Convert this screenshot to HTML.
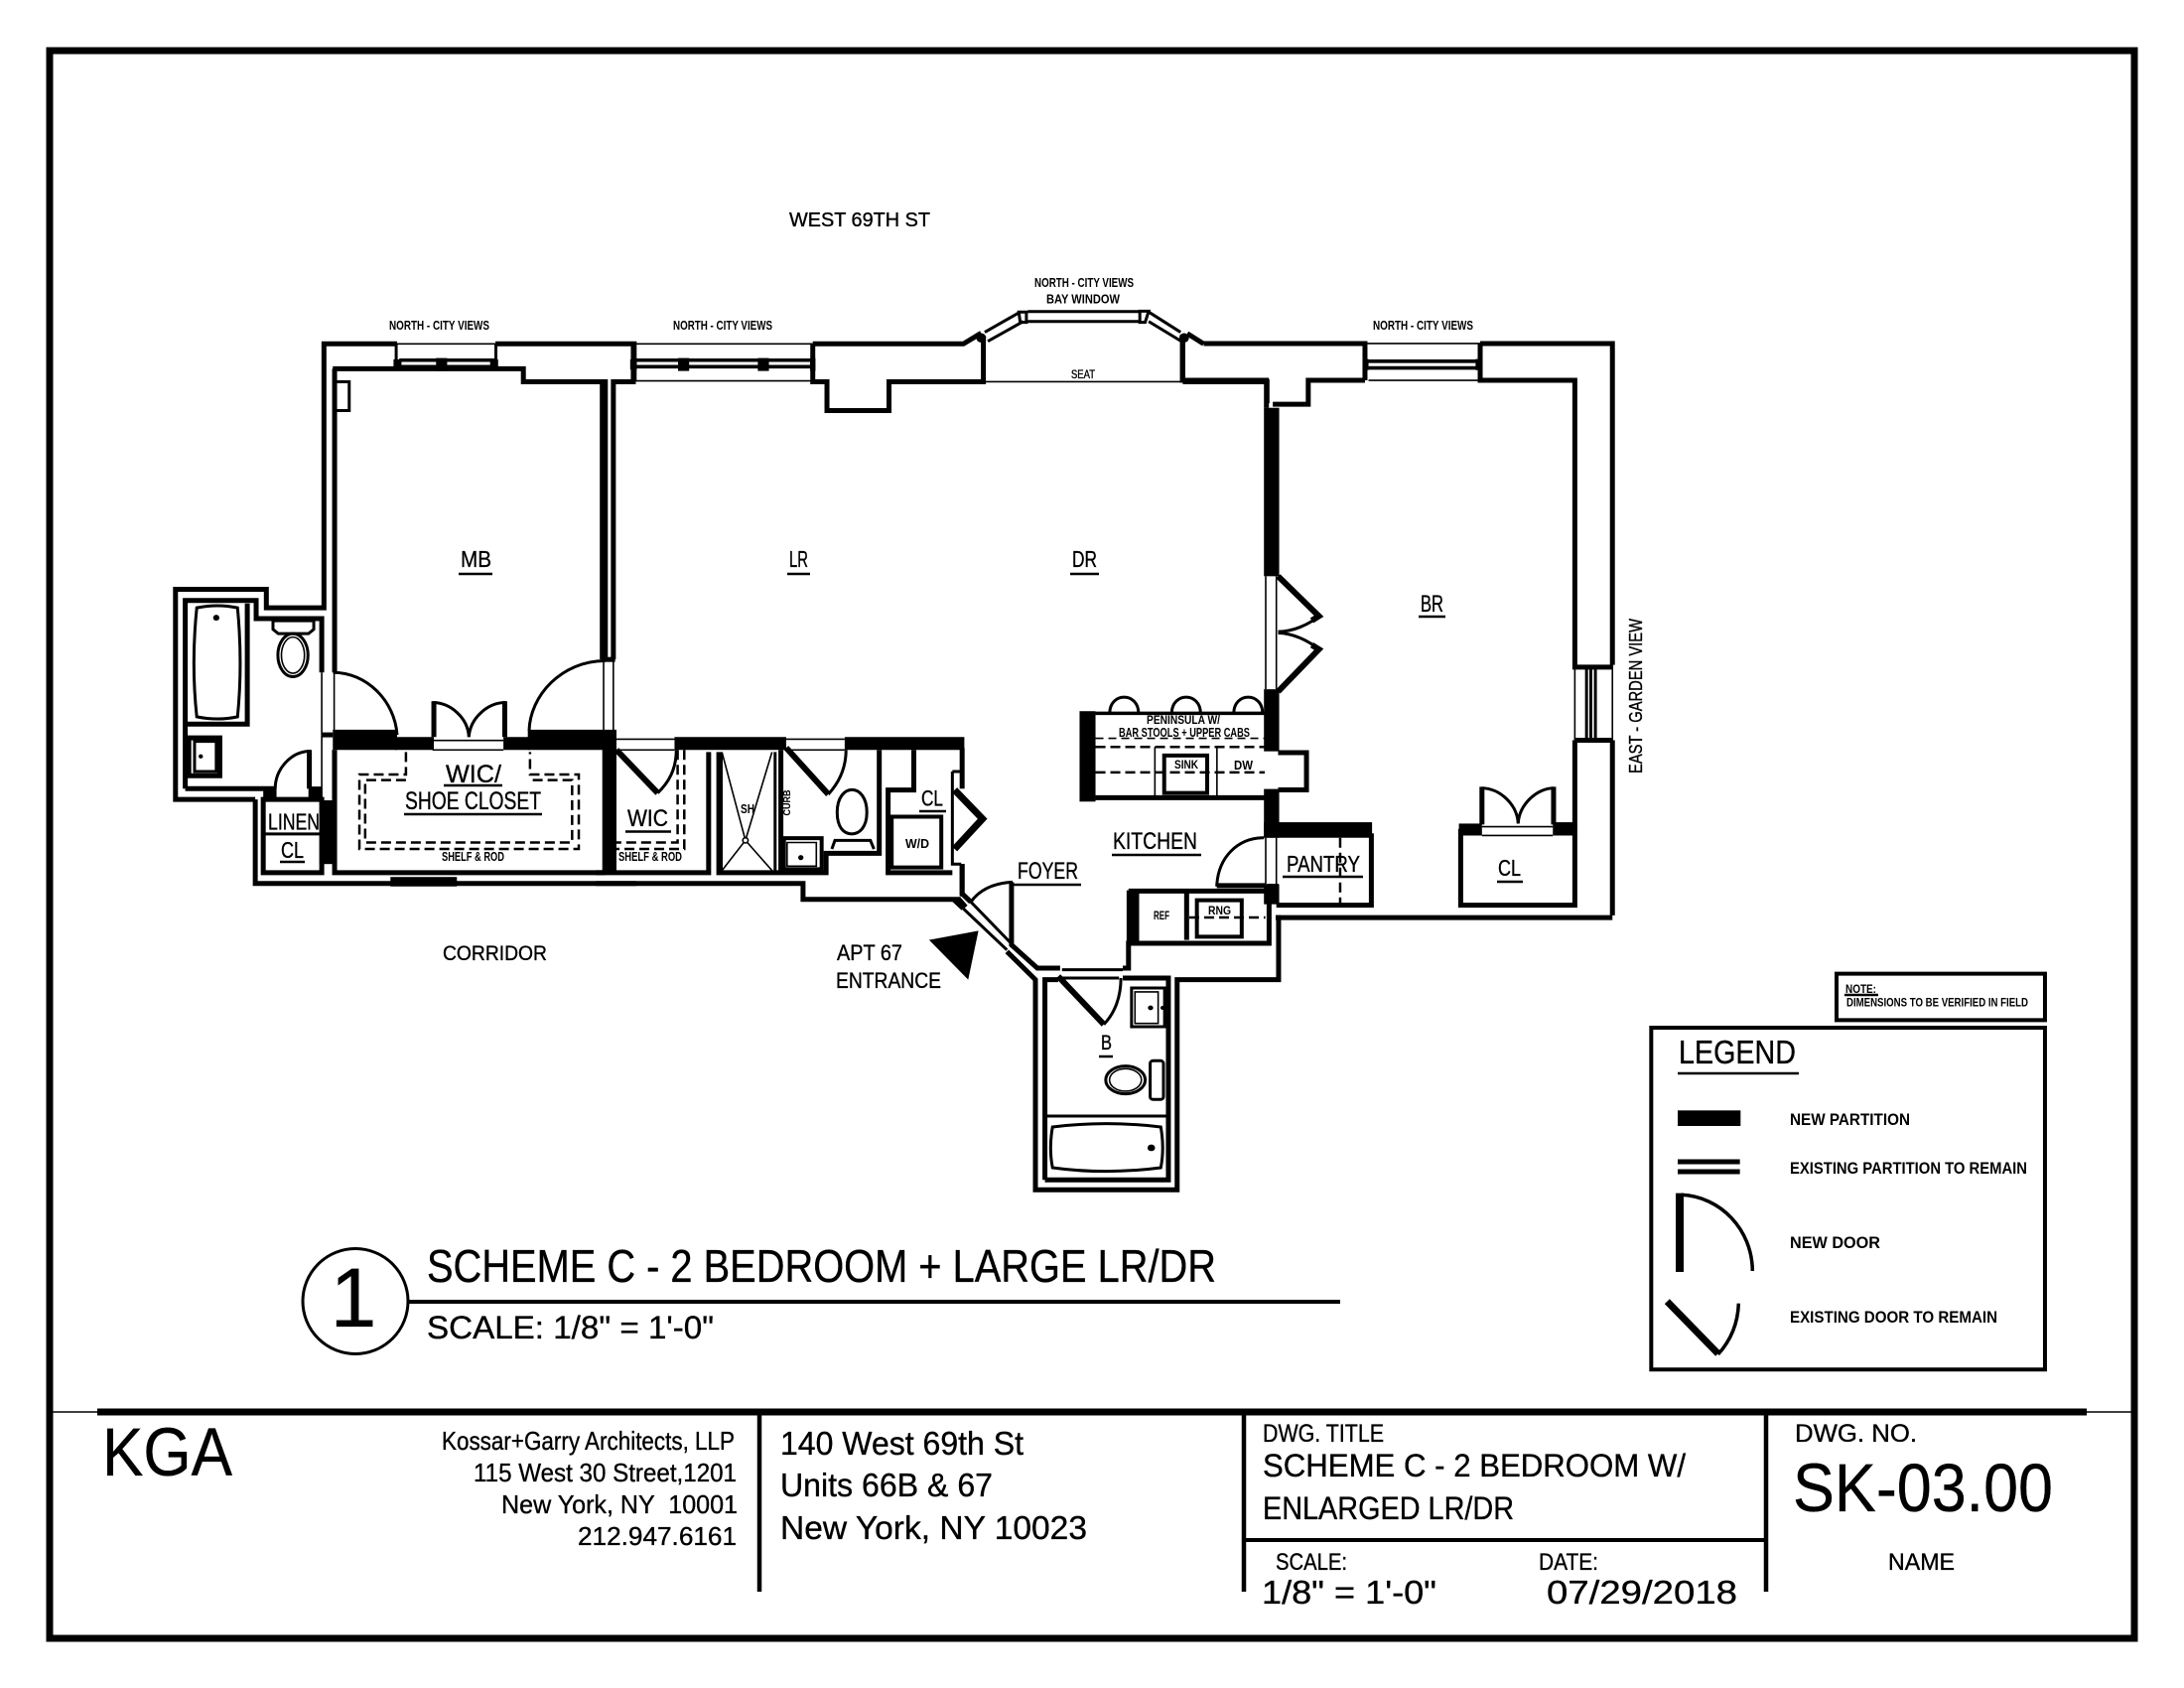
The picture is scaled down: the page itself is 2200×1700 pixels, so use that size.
<!DOCTYPE html>
<html><head><meta charset="utf-8"><title>SK-03.00</title>
<style>
html,body{margin:0;padding:0;background:#fff}
svg{display:block}
path,line,rect,ellipse,circle,polyline{vector-effect:non-scaling-stroke}
.g{fill:none;stroke:#000;stroke-width:5;stroke-linejoin:miter}
.m{stroke-width:3}
.t{stroke-width:1.6}
.h{stroke-width:7}
.w{stroke-width:3.6}
.d{stroke-width:2.5;stroke-dasharray:10 5}
.f{fill:#000;stroke:none}
.u{stroke:#000;stroke-width:2.5}
text{font-family:"Liberation Sans",sans-serif;fill:#000;stroke:#000;stroke-width:.35}
.b{font-weight:bold;stroke:none}
</style></head><body>
<svg xmlns="http://www.w3.org/2000/svg" width="2200" height="1700" viewBox="0 0 2200 1700">
<rect width="2200" height="1700" fill="#fff"/>
<rect x="50" y="51" width="2100" height="1599" fill="none" stroke="#000" stroke-width="7"/>

<!-- WEST PART -->
<g class="g" transform="translate(150,250) scale(.4464,.4337)">
<path d="M240,1280H60V792H265V835H395V222H560"/>
<path d="M560,222H782M1095,222H1100" class="t"/>
<path d="M782,222H1095V310"/>
<path d="M82,1255V818H242V860H390V985"/>
<path d="M82,1105H222V825"/>
<path d="M82,1255H285M240,1280V1475H1100"/>
<rect x="90" y="1137" width="70" height="88"/>
<rect x="103" y="1145" width="49" height="70" class="m"/>
<circle cx="117" cy="1180" r="5" class="f"/>
<path class="m" d="M108,835Q155,825 200,835Q212,965 200,1088Q155,1098 108,1088Q95,965 108,835Z"/>
<circle cx="152" cy="858" r="7" class="f"/>
<path class="m" d="M280,865H372V885L360,895H292L280,885Z"/>
<ellipse class="m" cx="325" cy="945" rx="34" ry="50"/>
<ellipse class="t" cx="325" cy="945" rx="26" ry="42"/>
<path d="M419,280V985"/>
<path class="t" d="M390,985V1130M418,985V1120"/>
<path class="m" d="M416,985C490,985 555,1050 560,1130"/>
<rect class="f" x="415" y="1118" width="145" height="47"/>
<rect class="f" x="555" y="1135" width="88" height="30"/>
<rect class="f" x="800" y="1135" width="60" height="30"/>
<rect class="f" x="855" y="1118" width="200" height="47"/>
<path class="t" d="M640,1143H800M640,1165H800"/>
<path d="M643,1052V1135M803,1052V1135"/>
<path class="m" d="M640,1055C680,1055 720,1090 722,1135M805,1055C765,1055 725,1090 722,1135"/>
<path class="m" d="M1030,958C930,958 860,1040 858,1120"/>
<path d="M415,280H845V310H1030V955"/>
<path class="h" style="stroke-width:3" d="M558,222V280M783,222V280"/>
<path d="M565,260H780M565,275H780" class="w"/>
<rect class="f" x="648" y="255" width="25" height="30"/>
<rect class="f" x="552" y="258" width="18" height="24"/>
<rect class="f" x="770" y="258" width="18" height="24"/>
<rect class="m" x="420" y="310" width="32" height="67"/>
<path d="M1020,955H1052"/>
<path class="t" d="M1026,960V1120M1048,960V1120"/>
<path d="M419,1165V1450H1030"/>
<rect class="f" x="545" y="1460" width="150" height="22"/>
<rect x="258" y="1280" width="132" height="170"/>
<path class="m" d="M258,1360H390"/>
<rect class="f" x="385" y="1282" width="30" height="148"/>
<path class="t" d="M390,1130V1280M415,1165V1280"/>
<path d="M390,1130H415"/>
<path class="m" d="M365,1168C320,1168 285,1210 285,1255"/>
<path d="M362,1165V1255"/>
<rect class="f" x="258" y="1250" width="30" height="35"/>
<rect class="f" x="360" y="1250" width="30" height="35"/>
<path class="d" d="M580,1170V1222H475V1395H970V1222H860V1170"/>
<path class="d" d="M580,1235H488V1380H955V1235H860"/>
</g>

<!-- CENTRE -->
<g class="g" transform="translate(600,250) scale(.4464,.4337)">
<path d="M85,222V310H40V955M15,310V955"/>
<path class="t" d="M85,222H490M40,308H490"/>
<path class="w" d="M90,260H490M90,275H490"/>
<rect class="f" x="186" y="255" width="25" height="30"/>
<rect class="f" x="366" y="255" width="25" height="30"/>
<rect class="f" x="78" y="258" width="15" height="24"/>
<rect class="f" x="484" y="255" width="12" height="30"/>
<path d="M490,222V310H522V377H662V310H875V205M490,222H830L870,197"/>
<path class="m" d="M878,195L958,148M885,216L965,170M975,147H1228M975,170H1228M1248,148L1320,195M1248,170L1320,215"/>
<path class="m" d="M955,148H972V172H958ZM1228,146H1248L1240,172H1228Z"/>
<circle class="f" cx="870" cy="208" r="11"/>
<circle class="f" cx="1328" cy="208" r="11"/>
<path d="M1325,205V310M1335,198L1372,222"/>
<path class="t" d="M875,310H1325"/>
<path d="M1325,310H1515V360"/>
<rect class="f" x="1092" y="1075" width="36" height="210"/>
<path class="m" style="stroke-width:3.5" d="M1128,1080H1510"/>
<path d="M1128,1276H1510"/>
<path class="d" d="M1128,1158H1510M1128,1217H1510"/>
<path class="t" style="stroke-dasharray:8 5" d="M1128,1138H1510"/>
<path class="t" d="M1262,1158V1275M1402,1158V1275"/>
<rect x="1283" y="1178" width="97" height="87" class="m" style="stroke-width:4"/>
<path class="m" d="M1160,1080C1160,1030 1225,1030 1225,1080M1300,1080C1300,1030 1365,1030 1365,1080M1440,1080C1440,1030 1505,1030 1505,1080"/>
<rect class="f" x="15" y="1120" width="32" height="330"/>
<path d="M0,1450H255V1170M278,1170V1450H520V1405H640V1165"/>
<rect class="f" x="178" y="1135" width="252" height="30"/>
<rect class="f" x="562" y="1135" width="270" height="30"/>
<path class="t" d="M47,1140H178M47,1165H178M430,1140H562M430,1165H562"/>
<path d="M47,1165L140,1265" style="stroke-width:6"/>
<path class="m" d="M140,1265C165,1240 182,1210 182,1165"/>
<path class="d" d="M200,1165V1395H47M185,1165V1380H47"/>
<path class="t" d="M285,1170L338,1375L285,1445M398,1170L338,1375L398,1445M285,1170V1445"/>
<circle class="t" cx="338" cy="1375" r="6" fill="#fff"/>
<path class="m" d="M405,1170V1445"/><path d="M418,1165V1450"/>
<path d="M430,1160L525,1268" style="stroke-width:6"/>
<path class="m" d="M525,1268C550,1240 565,1205 565,1165"/>
<rect x="425" y="1370" width="85" height="72" class="m" style="stroke-width:4"/>
<rect x="432" y="1380" width="66" height="55" class="t"/>
<circle class="f" cx="463" cy="1415" r="6"/>
<path class="m" d="M545,1310C545,1240 612,1240 612,1310C612,1345 595,1360 578,1360C560,1360 545,1345 545,1310Z"/>
<path class="m" d="M533,1395L540,1375H620L628,1395"/>
<path d="M718,1165V1258H660V1450H805"/>
<rect x="668" y="1320" width="112" height="118" class="m" style="stroke-width:4"/>
<path class="m" d="M805,1215V1430H825M805,1215H825"/>
<path d="M827,1160V1255"/>
<path style="stroke-width:7" d="M810,1258L873,1325L810,1395"/>
<path d="M827,1430V1505"/>
<path d="M0,1475H468V1512H820L835,1530"/>
</g>

<!-- EAST -->
<g class="g" transform="translate(1150,250) scale(.3571,.4464)">
<path d="M175,215H630V298M955,215H1328V940"/>
<path class="t" d="M630,215H955M640,298H950"/>
<path class="w" d="M640,255H950M640,270H950"/>
<rect class="f" x="625" y="250" width="15" height="25"/>
<rect class="f" x="942" y="250" width="18" height="25"/>
<path d="M115,195V298H352V360M370,352H470V298H630M955,215V298H1222V945H1328"/>
<path class="t" d="M1222,945V1110M1328,940V1110"/>
<path class="m" d="M1255,945V1105M1267,945V1105M1280,945V1105"/>
<path d="M1222,1110H1328M1222,1110V1300M1328,1110V1505"/>
<rect class="f" x="345" y="360" width="43" height="380"/>
<path class="t" d="M350,740V995M380,740V995"/>
<path style="stroke-width:6" d="M385,740L500,830L480,840M385,1000L500,905L480,895"/>
<path class="m" d="M500,830C470,850 425,865 385,865M500,905C470,885 425,868 385,868"/>
<rect class="f" x="345" y="995" width="43" height="140"/>
<rect class="f" x="345" y="1220" width="43" height="110"/>
<path d="M385,1138H465V1222H385"/>
<rect class="f" x="345" y="1295" width="305" height="35"/>
<path d="M648,1320V1482H380"/>
<rect class="f" x="895" y="1298" width="65" height="27"/>
<rect class="f" x="1160" y="1295" width="68" height="30"/>
<path d="M900,1310V1482H1222V1300"/>
<path class="t" d="M960,1305H1160M960,1325H1160"/>
<path d="M960,1215V1300M1162,1215V1300"/>
<path class="m" d="M960,1218C1010,1218 1060,1255 1062,1298M1162,1218C1115,1218 1065,1255 1062,1298"/>
<path d="M378,1510H1328"/>
<path class="d" d="M560,1330V1482"/>
<path class="m" d="M345,1330C270,1330 215,1375 212,1440"/>
<path d="M212,1438H350"/>
<path class="t" d="M350,1330V1435M380,1330V1435"/>
<rect class="f" x="345" y="1435" width="43" height="45"/>
</g>

<!-- ENTRY / KITCHEN / BATH -->
<g class="g" transform="translate(800,820) scale(.3827,.3333)">
<path d="M420,258L445,285M442,150V240L465,265"/>
<path class="m" d="M445,285L560,410M465,265L575,395"/>
<path class="m" d="M465,265C490,225 530,208 575,205"/>
<path d="M572,205V395L640,465H700M560,415L635,500V1135H1008V500H1275V305"/>
<path d="M660,1105V500H695M865,495H985V1105H660"/>
<path class="m" d="M705,470H865M705,495H855"/>
<path d="M695,490L815,635" style="stroke-width:6"/>
<path class="m" d="M815,635C845,600 860,550 860,495"/>
<path d="M865,465H880V390H1250V232H880"/>
<rect class="f" x="875" y="230" width="33" height="158"/>
<path d="M1033,235V380"/>
<rect x="1060" y="260" width="118" height="110" class="m" style="stroke-width:4"/>
<path class="d" d="M1040,312H1240"/>
<rect class="f" x="1245" y="210" width="30" height="60"/>
<rect x="888" y="525" width="87" height="117" class="m"/>
<rect x="897" y="537" width="61" height="95" class="t"/>
<circle class="f" cx="938" cy="585" r="7"/>
<circle class="f" cx="970" cy="585" r="6"/>
<ellipse class="m" cx="872" cy="803" rx="52" ry="42"/>
<ellipse class="t" cx="872" cy="803" rx="42" ry="34"/>
<rect class="m" x="937" y="745" width="35" height="117" rx="8"/>
<path class="m" d="M665,912H985"/>
<path class="m" d="M680,945Q820,925 965,945Q975,1010 965,1068Q820,1090 680,1068Q670,1010 680,945Z"/>
<circle class="f" cx="940" cy="1008" r="10"/>
<path class="f" d="M355,380L485,352L458,500Z"/>
</g>

<!-- LEGEND -->
<g class="g" transform="translate(1640,960) scale(.3333)">
<rect x="630" y="62" width="630" height="140" style="stroke-width:4"/>
<rect x="70" y="225" width="1190" height="1033" style="stroke-width:4"/>
<rect class="f" x="150" y="475" width="190" height="47"/>
<path d="M150,630H338M150,660H338"/>
<rect class="f" x="144" y="725" width="24" height="238"/>
<path class="m" style="stroke-width:3.5" d="M160,730C280,735 375,835 376,960"/>
<path d="M118,1052L272,1210" style="stroke-width:7"/>
<path class="m" style="stroke-width:3.5" d="M272,1212C310,1170 332,1120 334,1058"/>
</g>

<!-- TITLE BLOCK LINES -->
<line x1="98" y1="1422" x2="2102" y2="1422" stroke="#000" stroke-width="7"/>
<line x1="50" y1="1422" x2="98" y2="1422" stroke="#000" stroke-width="1.6"/>
<line x1="2102" y1="1422" x2="2150" y2="1422" stroke="#000" stroke-width="1.6"/>
<line x1="765" y1="1422" x2="765" y2="1603" stroke="#000" stroke-width="4.5"/>
<line x1="1253" y1="1422" x2="1253" y2="1603" stroke="#000" stroke-width="4.5"/>
<line x1="1779" y1="1422" x2="1779" y2="1603" stroke="#000" stroke-width="4.5"/>
<line x1="1253" y1="1551" x2="1779" y2="1551" stroke="#000" stroke-width="4"/>
<circle cx="358" cy="1310.5" r="53" fill="#fff" stroke="#000" stroke-width="3"/>
<line x1="411" y1="1311" x2="1350" y2="1311" stroke="#000" stroke-width="4"/>

<!-- UNDERLINES -->
<g class="u">
<line x1="462" y1="578" x2="496" y2="578"/><line x1="793" y1="578" x2="816" y2="578"/><line x1="1078" y1="578" x2="1107" y2="578"/>
<line x1="1429" y1="621" x2="1456" y2="621"/><line x1="1120" y1="861" x2="1210" y2="861"/><line x1="1020" y1="891" x2="1089" y2="891"/>
<line x1="1292" y1="883" x2="1373" y2="883"/><line x1="1508" y1="888" x2="1534" y2="888"/><line x1="1107" y1="1064" x2="1121" y2="1064"/>
<line x1="447" y1="791" x2="506" y2="791"/><line x1="407" y1="820" x2="546" y2="820"/><line x1="630" y1="837.5" x2="676" y2="837.5"/>
<line x1="282" y1="868" x2="307" y2="868"/><line x1="926" y1="817" x2="953" y2="817"/>
<line x1="1858" y1="1002" x2="1892" y2="1002"/><line x1="1690" y1="1081" x2="1812" y2="1081"/>
</g>

<!-- TEXT -->
<g>
<text x="795" y="228" font-size="20" textLength="142" lengthAdjust="spacingAndGlyphs">WEST 69TH ST</text>
<text class="b" x="392" y="332" font-size="12.5" textLength="101" lengthAdjust="spacingAndGlyphs">NORTH - CITY VIEWS</text>
<text class="b" x="678" y="332" font-size="12.5" textLength="100" lengthAdjust="spacingAndGlyphs">NORTH - CITY VIEWS</text>
<text class="b" x="1383" y="332" font-size="12.5" textLength="101" lengthAdjust="spacingAndGlyphs">NORTH - CITY VIEWS</text>
<text class="b" x="1042" y="289" font-size="12.5" textLength="100" lengthAdjust="spacingAndGlyphs">NORTH - CITY VIEWS</text>
<text class="b" x="1054" y="305.5" font-size="12.5" textLength="74" lengthAdjust="spacingAndGlyphs">BAY WINDOW</text>
<text x="1079" y="381" font-size="11.5" textLength="24" lengthAdjust="spacingAndGlyphs">SEAT</text>
<text x="464" y="571" font-size="23" textLength="31" lengthAdjust="spacingAndGlyphs">MB</text>
<text x="795" y="571" font-size="23" textLength="19" lengthAdjust="spacingAndGlyphs">LR</text>
<text x="1080" y="571" font-size="23" textLength="25" lengthAdjust="spacingAndGlyphs">DR</text>
<text x="1431" y="616" font-size="24" textLength="23" lengthAdjust="spacingAndGlyphs">BR</text>
<text x="1121" y="855" font-size="24" textLength="85" lengthAdjust="spacingAndGlyphs">KITCHEN</text>
<text x="1025" y="885" font-size="24" textLength="61" lengthAdjust="spacingAndGlyphs">FOYER</text>
<text x="1296" y="878" font-size="23" textLength="74" lengthAdjust="spacingAndGlyphs">PANTRY</text>
<text x="1509" y="882" font-size="23" textLength="23" lengthAdjust="spacingAndGlyphs">CL</text>
<text x="1109" y="1057" font-size="21" textLength="11" lengthAdjust="spacingAndGlyphs">B</text>
<text x="1162" y="926" font-size="12" textLength="16" lengthAdjust="spacingAndGlyphs" class="b">REF</text>
<text x="1217" y="921" font-size="12" textLength="23" lengthAdjust="spacingAndGlyphs" class="b">RNG</text>
<text x="843" y="967" font-size="22" textLength="66" lengthAdjust="spacingAndGlyphs">APT 67</text>
<text x="842" y="995" font-size="22" textLength="106" lengthAdjust="spacingAndGlyphs">ENTRANCE</text>
<text x="449" y="788" font-size="25" textLength="56" lengthAdjust="spacingAndGlyphs">WIC/</text>
<text x="408" y="815" font-size="25" textLength="137" lengthAdjust="spacingAndGlyphs">SHOE CLOSET</text>
<text class="b" x="445" y="867" font-size="12.5" textLength="63" lengthAdjust="spacingAndGlyphs">SHELF &amp; ROD</text>
<text class="b" x="623" y="867" font-size="12.5" textLength="64" lengthAdjust="spacingAndGlyphs">SHELF &amp; ROD</text>
<text x="632" y="832" font-size="24" textLength="41" lengthAdjust="spacingAndGlyphs">WIC</text>
<text x="270" y="835.5" font-size="23" textLength="52" lengthAdjust="spacingAndGlyphs">LINEN</text>
<text x="283" y="864" font-size="23" textLength="23" lengthAdjust="spacingAndGlyphs">CL</text>
<text class="b" x="746" y="819" font-size="12.5" textLength="14" lengthAdjust="spacingAndGlyphs">SH</text>
<text class="b" x="796" y="821.5" font-size="10" textLength="26" lengthAdjust="spacingAndGlyphs" transform="rotate(-90 796 821.5)">CURB</text>
<text class="b" x="912" y="854" font-size="12.5" textLength="24" lengthAdjust="spacingAndGlyphs">W/D</text>
<text x="928" y="811.5" font-size="22" textLength="22" lengthAdjust="spacingAndGlyphs">CL</text>
<text class="b" x="1155" y="729" font-size="12" textLength="74" lengthAdjust="spacingAndGlyphs">PENINSULA W/</text>
<text class="b" x="1127" y="742" font-size="12.5" textLength="132" lengthAdjust="spacingAndGlyphs">BAR STOOLS + UPPER CABS</text>
<text class="b" x="1183" y="774" font-size="12" textLength="24" lengthAdjust="spacingAndGlyphs">SINK</text>
<text class="b" x="1243" y="775" font-size="12.5" textLength="19" lengthAdjust="spacingAndGlyphs">DW</text>
<text x="1654" y="779" font-size="18" textLength="156" lengthAdjust="spacingAndGlyphs" transform="rotate(-90 1654 779)">EAST - GARDEN VIEW</text>
<text x="446" y="967" font-size="21" textLength="105" lengthAdjust="spacingAndGlyphs">CORRIDOR</text>

<text class="b" x="1859" y="1000" font-size="11.5" textLength="31" lengthAdjust="spacingAndGlyphs">NOTE:</text>
<text class="b" x="1860" y="1013.5" font-size="12" textLength="183" lengthAdjust="spacingAndGlyphs">DIMENSIONS TO BE VERIFIED IN FIELD</text>
<text x="1691" y="1071" font-size="33" textLength="118" lengthAdjust="spacingAndGlyphs">LEGEND</text>
<text class="b" x="1803" y="1133" font-size="17" textLength="121" lengthAdjust="spacingAndGlyphs">NEW PARTITION</text>
<text class="b" x="1803" y="1182" font-size="17" textLength="239" lengthAdjust="spacingAndGlyphs">EXISTING PARTITION TO REMAIN</text>
<text class="b" x="1803" y="1257" font-size="17" textLength="91" lengthAdjust="spacingAndGlyphs">NEW DOOR</text>
<text class="b" x="1803" y="1332" font-size="17" textLength="209" lengthAdjust="spacingAndGlyphs">EXISTING DOOR TO REMAIN</text>

<text x="356" y="1336" font-size="84" text-anchor="middle">1</text>
<text x="430" y="1291" font-size="46" textLength="795" lengthAdjust="spacingAndGlyphs">SCHEME C - 2 BEDROOM + LARGE LR/DR</text>
<text x="430" y="1348" font-size="32" textLength="289" lengthAdjust="spacingAndGlyphs">SCALE: 1/8" = 1'-0"</text>

<text x="103" y="1486" font-size="69" textLength="131" lengthAdjust="spacingAndGlyphs">KGA</text>
<text x="445" y="1460" font-size="26" textLength="295" lengthAdjust="spacingAndGlyphs">Kossar+Garry Architects, LLP</text>
<text x="477" y="1492" font-size="26" textLength="265" lengthAdjust="spacingAndGlyphs">115 West 30 Street,1201</text>
<text x="505" y="1524" font-size="26" textLength="238" lengthAdjust="spacingAndGlyphs" xml:space="preserve">New York, NY  10001</text>
<text x="582" y="1556" font-size="26" textLength="160" lengthAdjust="spacingAndGlyphs">212.947.6161</text>
<text x="786" y="1465" font-size="33" textLength="245" lengthAdjust="spacingAndGlyphs">140 West 69th St</text>
<text x="786" y="1507" font-size="33" textLength="214" lengthAdjust="spacingAndGlyphs">Units 66B &amp; 67</text>
<text x="786" y="1550" font-size="33" textLength="309" lengthAdjust="spacingAndGlyphs">New York, NY 10023</text>

<text x="1272" y="1452" font-size="25" textLength="122" lengthAdjust="spacingAndGlyphs">DWG. TITLE</text>
<text x="1272" y="1487" font-size="32" textLength="426" lengthAdjust="spacingAndGlyphs">SCHEME C - 2 BEDROOM W/</text>
<text x="1272" y="1530" font-size="32" textLength="253" lengthAdjust="spacingAndGlyphs">ENLARGED LR/DR</text>
<text x="1285" y="1581" font-size="24" textLength="72" lengthAdjust="spacingAndGlyphs">SCALE:</text>
<text x="1550" y="1581" font-size="24" textLength="60" lengthAdjust="spacingAndGlyphs">DATE:</text>
<text x="1271" y="1615" font-size="33" textLength="176" lengthAdjust="spacingAndGlyphs">1/8" = 1'-0"</text>
<text x="1558" y="1615" font-size="33" textLength="192" lengthAdjust="spacingAndGlyphs">07/29/2018</text>
<text x="1808" y="1452" font-size="25" textLength="123" lengthAdjust="spacingAndGlyphs">DWG. NO.</text>
<text x="1806" y="1522" font-size="69" textLength="262" lengthAdjust="spacingAndGlyphs">SK-03.00</text>
<text x="1902" y="1581" font-size="24" textLength="67" lengthAdjust="spacingAndGlyphs">NAME</text>
</g>
</svg>
</body></html>
